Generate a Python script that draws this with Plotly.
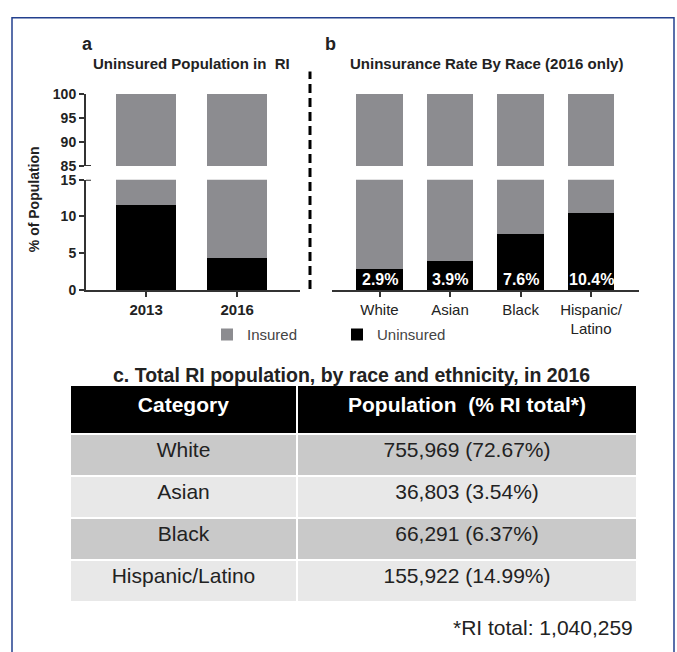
import plotly.graph_objects as go

# ---------------- data ----------------
years = ["2013", "2016"]
uninsured_year = [11.6, 4.3]
races = ["White", "Asian", "Black", "Hispanic/<br>Latino"]
uninsured_race = [2.9, 3.9, 7.6, 10.4]
lower_ticks = [0, 5, 10, 15]
upper_ticks = [85, 90, 95, 100]

table_header = ["Category", "Population  (% RI total*)"]
table_categories = ["White", "Asian", "Black", "Hispanic/Latino"]
table_population = ["755,969 (72.67%)", "36,803 (3.54%)", "66,291 (6.37%)", "155,922 (14.99%)"]
ri_total = "1,040,259"

# ---------------- helpers ----------------
W, H = 677, 652
def px(x):
    return x / W
def py(y):
    return 1 - y / H

FONT = "Liberation Sans, Arial, sans-serif"
GRAY = "#8c8c90"
INK = "#222222"
AXIS = "#333333"

fig = go.Figure()

panels = [
    ("x", "y", "y2", years, uninsured_year),
    ("x2", "y3", "y4", races, uninsured_race),
]
first = True
for xa, ylo, yhi, cats, vals in panels:
    insured = [round(100 - v, 1) for v in vals]
    for ya in (ylo, yhi):
        fig.add_trace(go.Bar(x=cats, y=vals, xaxis=xa, yaxis=ya, name="Uninsured",
                             marker=dict(color="black", line=dict(width=0)),
                             showlegend=first, hoverinfo="skip"))
        fig.add_trace(go.Bar(x=cats, y=insured, xaxis=xa, yaxis=ya, name="Insured",
                             marker=dict(color=GRAY, line=dict(width=0)),
                             showlegend=first, hoverinfo="skip"))
        first = False

# percentage labels at the base of each black bar
annotations = []
for xa, ylo, cats, vals in [("x", "y", years, uninsured_year), ("x2", "y3", races, uninsured_race)]:
    for c, v in zip(cats, vals):
        annotations.append(dict(x=c, y=0, xref=xa, yref=ylo, text=f"{v}%", showarrow=False,
                                xanchor="center", yanchor="bottom", yshift=0,
                                font=dict(family=FONT, size=16, color="white", weight="bold")))

# table
row_fill = ["#c9c9c9", "#e8e8e8", "#c9c9c9", "#e8e8e8"]
fig.add_trace(go.Table(
    domain=dict(x=[px(70), px(637)], y=[py(630), py(386)]),
    columnwidth=[227, 340],
    header=dict(values=[f"<b>{h}</b>" for h in table_header],
                fill_color="black", align="center", height=49,
                line=dict(color="white", width=2),
                font=dict(family=FONT, size=21, color="white")),
    cells=dict(values=[table_categories, table_population],
               fill_color=[row_fill, row_fill], align="center", height=42,
               line=dict(color="white", width=2),
               font=dict(family=FONT, size=21, color=INK)),
))

common_axis = dict(showline=True, linecolor=AXIS, linewidth=2, ticks="outside", ticklen=5,
                   tickwidth=2, tickcolor=AXIS, showgrid=False, zeroline=False, fixedrange=True)

fig.update_layout(
    width=W, height=H, margin=dict(l=0, r=0, t=0, b=0),
    paper_bgcolor="white", plot_bgcolor="white",
    barmode="stack", bargap=0.34, hovermode=False,
    font=dict(family=FONT, color=INK),
    xaxis=dict(domain=[px(86), px(300)], range=[-0.66, 1.69], anchor="y", type="category",
               tickfont=dict(family=FONT, size=15, color=INK, weight="bold"), **common_axis),
    yaxis=dict(domain=[py(289), py(176)], range=[0, 15], tickvals=lower_ticks, anchor="x",
               tickfont=dict(family=FONT, size=14, color=INK, weight="bold"), **common_axis),
    yaxis2=dict(domain=[py(162), py(88)], range=[85, 100], tickvals=upper_ticks, anchor="x",
                tickfont=dict(family=FONT, size=14, color=INK, weight="bold"), **common_axis),
    xaxis2=dict(domain=[px(332), px(639)], range=[-0.674, 3.68], anchor="y3", type="category",
                tickfont=dict(family=FONT, size=15, color=INK), **common_axis),
    yaxis3=dict(domain=[py(289), py(176)], range=[0, 15], anchor="x2", visible=False, fixedrange=True),
    yaxis4=dict(domain=[py(162), py(88)], range=[85, 100], anchor="x2", visible=False, fixedrange=True),
    legend=dict(orientation="h", x=px(207), y=py(335), xanchor="left", yanchor="middle",
                traceorder="reversed", entrywidth=85, bgcolor="rgba(0,0,0,0)",
                font=dict(family=FONT, size=15, color="#444444")),
)

def label(x, y, text, size, **kw):
    d = dict(x=px(x), y=py(y), xref="paper", yref="paper", text=text, showarrow=False,
             xanchor="center", yanchor="middle", font=dict(family=FONT, size=size, color=INK))
    d.update(kw)
    return d

annotations += [
    label(87, 37, "<b>a</b>", 18),
    label(330, 37, "<b>b</b>", 18),
    label(191.5, 57, "<b>Uninsured Population in  RI</b>", 15),
    label(486.5, 57, "<b>Uninsurance Rate By Race (2016 only)</b>", 15),
    label(34, 196, "<b>% of Population</b>", 14, textangle=-90),
    label(352, 376, "<b>c. Total RI population, by race and ethnicity, in 2016</b>", 19.5),
    label(635, 635, f"*RI total: {ri_total}", 21, xanchor="right"),
]
fig.update_layout(annotations=annotations)

shapes = [
    # dashed divider between panels
    dict(type="line", xref="paper", yref="paper", x0=px(310), x1=px(310), y0=py(288), y1=py(65),
         line=dict(color="black", width=3, dash="9px,5px")),
    # outer blue frame
    dict(type="rect", xref="paper", yref="paper", x0=px(12), x1=px(674), y0=-0.1, y1=py(10),
         line=dict(color="#23408e", width=1.5)),
    # axis-break end caps
    dict(type="line", xref="paper", yref="y2", x0=px(86), x1=px(91), y0=85, y1=85,
         line=dict(color=AXIS, width=2)),
    dict(type="line", xref="paper", yref="y", x0=px(86), x1=px(91), y0=15, y1=15,
         line=dict(color=AXIS, width=2)),
]
fig.update_layout(shapes=shapes)

fig.write_html("out.html", config={"displayModeBar": False},
               post_script="document.body.style.margin='0';document.body.style.overflow='hidden';")
